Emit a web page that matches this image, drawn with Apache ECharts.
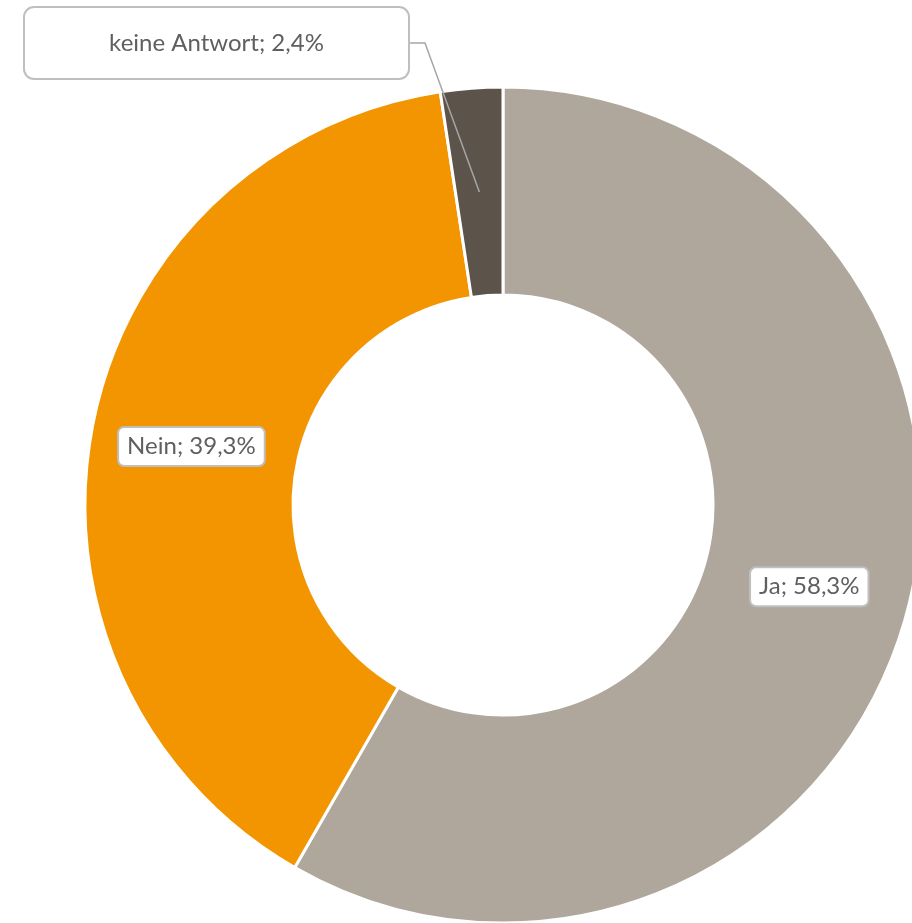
<!DOCTYPE html>
<html>
<head>
<meta charset="utf-8">
<script src="https://cdn.jsdelivr.net/npm/echarts@6/dist/echarts.min.js"></script>
<style>
  html, body { margin: 0; padding: 0; background: #ffffff; }
  #chart { width: 912px; height: 923px; }
</style>
</head>
<body>
<div id="chart"></div>
<script>
// Antworten und Anteile in Prozent
const categories = ['Ja', 'Nein', 'keine Antwort'];
const shares = [58.3, 39.3, 2.4];
const colors = ['#AFA79C', '#F29500', '#5C534A'];

const CENTER = [503, 505];
const R_IN = 210, R_OUT = 418;
// Kasten für die kleine Kategorie oben links
const BOX = { x: 23, y: 6, w: 387, h: 74 };

const fmt = v => v.toFixed(1).replace('.', ',');
const total = shares.reduce((a, b) => a + b, 0);

// Mittlerer Winkel eines Segments (Grad, im Uhrzeigersinn ab oben)
function midAngle(idx) {
  let before = 0;
  for (let i = 0; i < idx; i++) before += shares[i];
  return 360 * (before + shares[idx] / 2) / total;
}

// Führungslinie vom Kasten bis in die Ringmitte des kleinen Segments
function leaderPoints(idx) {
  const a = midAngle(idx) * Math.PI / 180;
  const rm = (R_IN + R_OUT) / 2;
  const sy = BOX.y + BOX.h / 2;
  return [
    [BOX.x + BOX.w, sy],
    [BOX.x + BOX.w + 15, sy],
    [CENTER[0] + rm * Math.sin(a), CENTER[1] - rm * Math.cos(a)]
  ];
}

const chart = echarts.init(document.getElementById('chart'), null, { renderer: 'canvas' });

const data = categories.map((name, i) => {
  const item = { name: name, value: shares[i], itemStyle: { color: colors[i] } };
  if (i === 2) {
    item.label = {
      position: 'outside',
      width: BOX.w - 4,
      height: BOX.h - 4,
      lineHeight: BOX.h - 4,
      padding: 0,
      align: 'center',
      borderRadius: 9
    };
  }
  return item;
});

chart.setOption({
  animation: false,
  graphic: [{
    type: 'polyline',
    z: 100,
    silent: true,
    shape: { points: leaderPoints(2) },
    style: { stroke: '#A6A6A6', lineWidth: 1.5, fill: null }
  }],
  series: [{
    type: 'pie',
    center: CENTER,
    radius: [R_IN, R_OUT],
    startAngle: 90,
    clockwise: true,
    avoidLabelOverlap: false,
    itemStyle: { borderColor: '#ffffff', borderWidth: 3 },
    label: {
      show: true,
      position: 'inside',
      formatter: p => p.name + '; ' + fmt(p.value) + '%',
      fontFamily: 'Lato, "Open Sans", sans-serif',
      fontSize: 24,
      color: '#5F5F5F',
      backgroundColor: '#ffffff',
      borderColor: '#BFBFBF',
      borderWidth: 2,
      borderRadius: 5,
      padding: [7, 8, 6, 8]
    },
    labelLine: { show: false },
    labelLayout: function (params) {
      if (params.dataIndex !== 2) return {};
      return {
        x: BOX.x + BOX.w / 2,
        y: BOX.y + 2,
        align: 'center',
        verticalAlign: 'top'
      };
    },
    data: data
  }]
});
</script>
</body>
</html>
